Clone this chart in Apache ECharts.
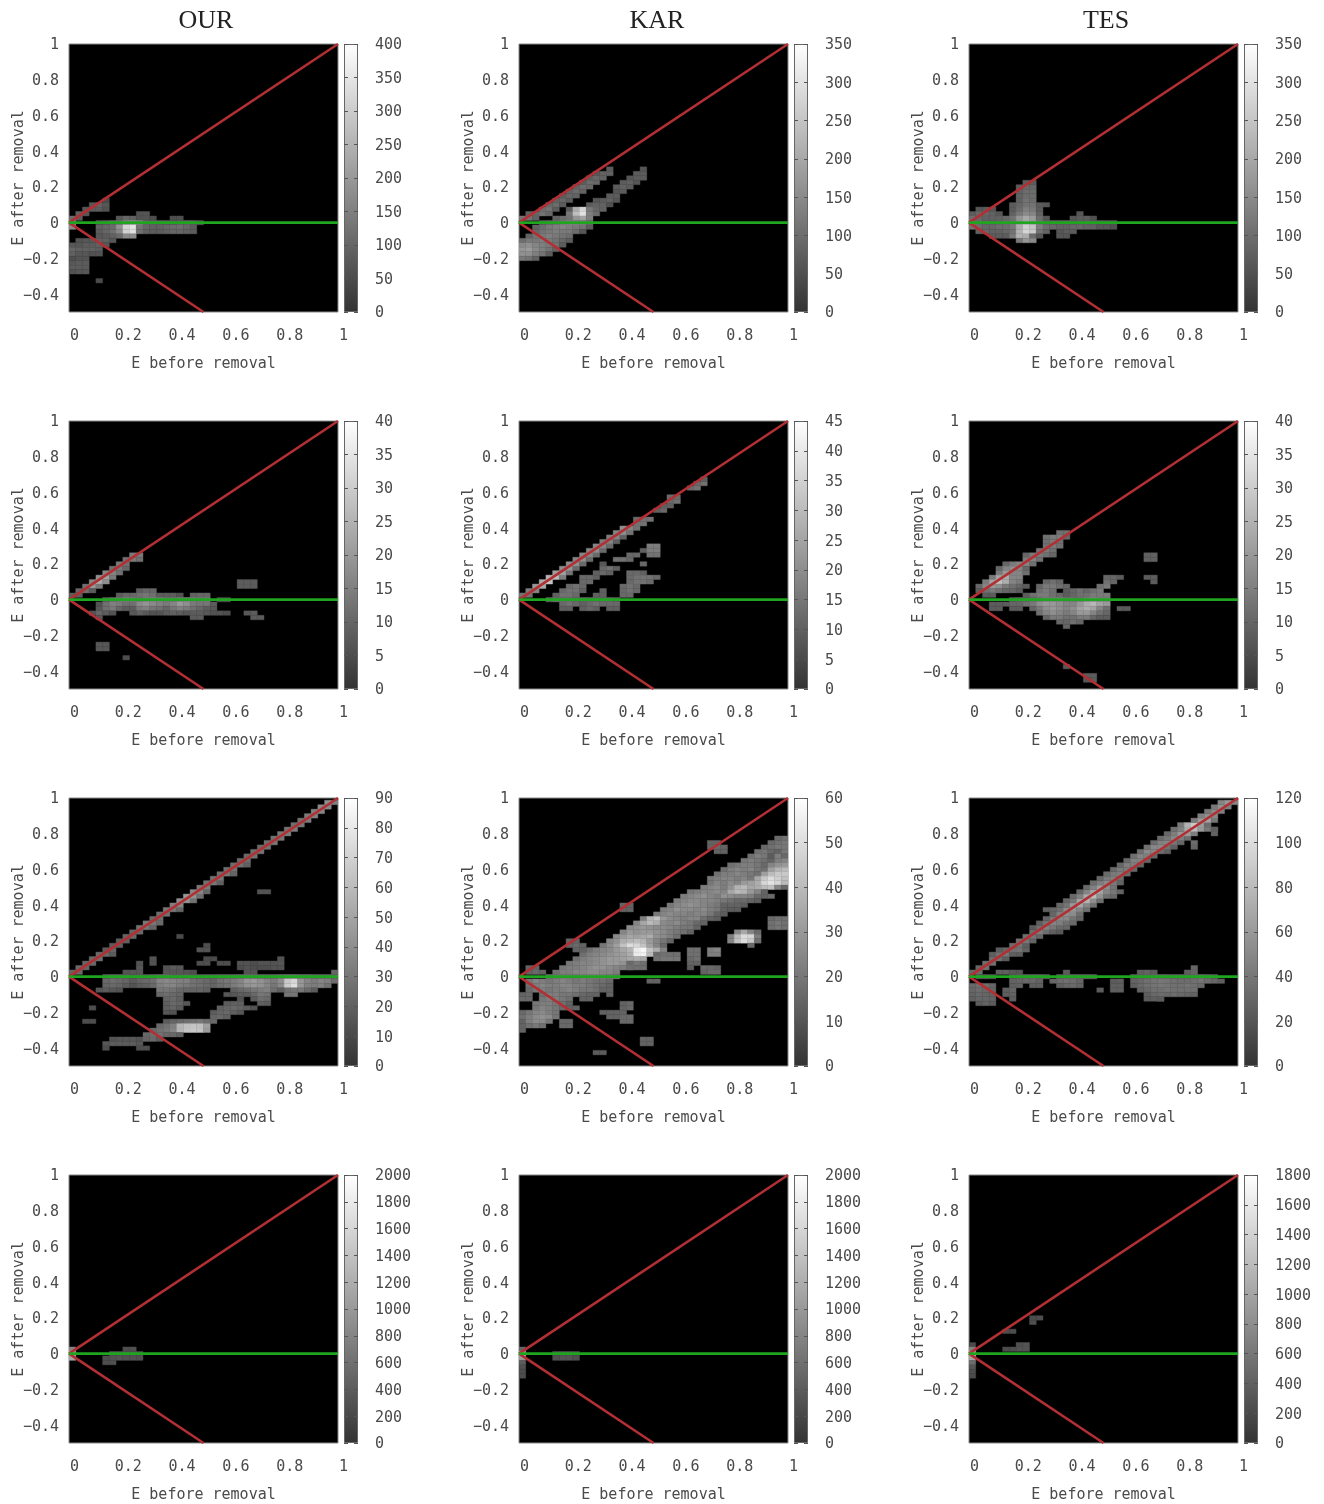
<!DOCTYPE html>
<html><head><meta charset="utf-8">
<style>html,body{margin:0;padding:0;background:#fff}#c{width:1324px;height:1504px;filter:blur(0.5px)}</style>
<script src="https://cdn.jsdelivr.net/npm/echarts@6/dist/echarts.min.js"></script>
</head><body><div id="c"></div>
<script>
// Histogram rows: [row bin (0.025 units from E after = 0), first column bin, counts...]
const ourRow1 = [
[5,5,45],[4,3,70,95,70],[3,2,70,80,80,60],[2,1,90,70],[2,10,60,65],
[1,0,110,80],[1,7,70,100,90,60,65,50],[1,15,50,55],
[0,0,180],[0,4,60,80,110,130,170,190,170,110,100,90,80,80,90,100,90,60],
[-1,0,170],[-1,4,90,100,110,190,320,345,130,100,90,90,100,110,115,100,80],
[-2,4,80,100,120,170,310,340,120,90,80,80,90,100,100,90,80],
[-3,4,70,80,90,110,170,170],[-4,1,60,70,70,90,90,70],
[-5,0,70,70,80,80,90,70],[-6,0,100,90,90,90,80],[-7,0,90,70,70,60,60],
[-8,0,55,65,65],[-9,0,70,80,80],[-10,0,80,80,80],[-11,0,60,70,70],[-13,4,45]];
const karRow1 = [
[12,13,70],[11,11,60,80,80],[10,10,70,90,80],[9,9,70,100,90],[8,8,80,100,90],[7,7,80,100,80],
[6,6,70,90,80],[5,5,80,90,70],[4,4,90,100,70],[3,3,100,110,70],[2,1,80,90,110,90],[1,0,110,110,80],
[12,18,60],[11,17,70,70],[10,16,60,70,70],[9,15,70,80,60],[8,14,70,80,70],[7,14,60,70],[6,13,70,70],
[5,11,60,70,80,60],[4,10,70,80,80,50],[3,7,70,210,280,120,90,80],[2,7,120,240,300,130,100],
[1,5,80,100,110,170,190,130],[0,3,70,90,110,130,150,150,140,110],
[-1,2,80,100,120,130,140,130,120,110,70],[-2,2,90,110,120,130,120,120,100,60],[-3,1,80,110,120,130,120,110,100],
[-4,0,100,120,120,130,120,110,90,70],[-5,0,150,160,140,130,120,110,70],[-6,0,170,180,150,130,110,80],
[-7,0,160,160,130,110,70],[-8,0,120,110,80]];
const tesRow1 = [
[9,8,70,70],[8,7,70,90,90],[7,7,80,100,100],[6,7,80,100,100],[5,7,80,110,100],
[4,6,70,90,110,110,70,60],[3,1,60,70,60,0,0,70,100,130,120,70],
[2,0,70,90,90,80,60,0,80,120,150,140,80],[2,16,60],
[1,0,100,90,80,80,80,90,110,170,200,180,100,60],[1,15,60,70,70,50],
[0,0,120,110,90,90,100,110,130,190,230,200,130,90,80,80,80,80,90,90,80,70,60,60],
[-1,0,110,100,90,90,100,100,120,210,270,250,130,100,90,80,80,90,90,80,80,60,60,50],
[-2,1,80,90,80,80,90,110,220,280,260,110,80,0,60,70,70],
[-3,3,70,70,70,120,220,210,100,60,0,0,60,60],[-4,7,120,170,150]];
const ourRow2 = [
[10,9,14,14],[9,8,12,14,12],[8,7,14,12],[7,6,12,14,10],[6,5,16,16,12],[5,4,18,22,14],[4,3,16,24,18],
[3,2,12,20,14],[2,1,10,12,8],[1,0,8,8],
[3,25,8,8,8],[4,25,8,8,8],[2,10,8,10,10],
[1,7,8,10,10,12,13,12,8,8,8,6],[1,18,9,10,10],
[0,5,8,12,14,16,15,14,16,16,15,14,14,15,16,15,14,15],[0,22,5,5],
[-1,4,6,12,15,14,12,12,17,19,17,15,14,16,20,18,14,13,13,8],
[-2,4,7,12,14,10,8,8,14,15,13,12,10,13,15,14,12,10,8,7],[-2,24,0],
[-3,3,6,10,8,6,0,0,7,9,7,6,6,8,9,8,7,8,8,7],[-3,21,6,6,5],[-3,26,7,8],
[-4,4,7],[-4,18,8,8],[-4,27,8,8],[-10,4,7,7],[-11,4,7,7],[-13,8,5]];
const karRow2 = [
[1,0,14,14],[2,1,16,18],[3,2,22,26],[4,3,26,32],[5,4,28,30,16],[6,5,24,24,14],[7,6,20,22,12],[8,7,20,20,12],
[9,8,18,20,12],[10,9,18,18,12],[11,10,18,20,12],[12,11,18,18,12],[13,12,16,18,10],[14,13,16,18,10],[15,14,18,20,14],
[16,15,20,18,14],[17,17,14,14],[18,17,12,14,14],[20,20,10,12],[21,21,10,10],[22,22,12,14],[23,22,12,12],
[25,25,12,14],[26,26,12,14],[27,27,10],
[12,19,16,16],[11,18,10,16,16],[10,16,12,12],[10,19,14,14],[9,14,14,14,12],[8,12,8],[8,18,12],[7,12,12,14,10],
[6,11,10,12,10],[6,16,12,12,10],[5,9,12,12,10],[5,16,12,14,14,14,12],[4,9,12,12],[4,16,12,14,14,12],
[3,7,12,14,12],[3,15,12,14,12],[2,6,12,14,14,10],[2,12,10],[2,15,12,14,12],[1,5,10,14,14,12],[1,11,10,10],[1,15,12,12],
[0,4,10,14,14,14,12,12,12,12,12,12,10],[-1,6,12,14,12,10,12,14,12,12,12],[-2,6,10,10],[-2,9,10,12,10],[-2,13,10,10]];
const tesRow2 = [
[15,13,12,12],[14,11,12,14,14,10],[13,11,12,14,12],[12,11,12,14,12],[11,10,12,14,12],[10,8,10,14,14,12,10],
[9,8,14,16,12],[8,5,10,14,16,16,12],[7,4,10,16,18,16,10],[6,4,14,20,16,16,12],[5,3,14,22,24,16,16],
[4,2,14,22,28,24,16,14],[3,1,10,16,20,18,14,12,10,8],[2,1,8,12,14,12,10,10,8],[1,2,8,8],
[5,20,10,10,8],[4,11,10,12,10],[4,20,12,10],[3,10,10,14,14,12,10],[3,19,12,14],
[2,10,12,14,12],[2,14,8,10,12,10,12,14],[1,8,8,12,14,14,12,10,8,10,12,12,14,14,14],
[0,6,8,10,10,12,14,16,16,16,14,14,14,16,18,16,16],
[-1,3,8,8,8,10,10,12,14,18,20,20,18,16,16,20,24,26,22,20],
[-2,3,8,8,0,8,8,0,10,14,18,20,18,16,18,22,24,22,16,12],[-2,22,8,8],
[-3,10,12,16,18,16,14,16,20,20,16,12,10],[-4,11,10,14,14,12,12,14,14,10,8,8],[-5,13,10,10,12,10],[-6,14,10],
[10,26,9,9],[9,26,9,9],[5,26,8,8],[4,27,8],[-15,14,7],[-17,17,8,8],[-18,17,7,8]];
const ourRow3 = [
[1,0,22,24],[2,1,24,22],[3,2,22,24],[4,3,24,26],[5,4,24,24,18],[6,5,18,22],[7,6,18,20],[8,7,18,20],
[9,8,22,24],[10,9,22,24],[11,10,28,30,22],[12,11,30,30,24],[13,12,24,26],[14,13,26,28],[15,14,30,30,22],
[16,15,34,36],[17,16,40,42,28],[18,17,44,42,26],[19,18,38,36,22],[20,19,30,32],[21,20,28,30,20],[22,21,28,30],
[23,22,26,30,22],[24,23,26,28],[25,24,26,28,20],[26,25,24,26],[27,26,24,28],[28,27,26,28],[29,28,24,28],
[30,29,26,30],[31,30,28,30],[32,31,30,32],[33,32,28,32],[34,33,26,30],[35,34,28,32],[36,35,32,34],[37,36,34,36],
[38,37,38,38],[39,38,40,34],
[19,28,14,14],[9,16,10],[7,20,12],[6,19,14,14],[4,12,14],[3,12,14],[4,20,10,10],[3,19,12,12],[3,22,12,12],
[3,10,14],[2,10,16],[1,8,14,16,16],[2,14,14,18,16],[1,14,16,16,16,14,12],
[3,25,14,14,12],[2,25,12,14,12],[3,28,14,14,14,16],[2,28,12,12,14,14],[4,31,14],[1,26,14,14],[1,39,22],
[0,5,18,22,22,20,18,20,18,22,26,26,22,22,24,20,18,20,20,22,22,24,26,28,26,24,22,24,28,30,30,28,26,24,24,24,22],
[-1,5,24,26,24,22,18,22,24,26,36,38,36,34,34,28,26,24,22,28,30,32,36,44,46,42,36,32,40,66,72,44,36,32,36,34,26],
[-2,5,22,24,22,18,14,18,20,24,34,36,36,32,30,28,26,24,22,26,28,32,36,42,44,42,36,30,38,68,76,44,34,32,34,28],
[-3,4,16,18,16,14],[-3,13,30,30,28,24,22,22,22,20],[-3,24,20,24,26,30,32,34,26,20,28,30,30,24,18],
[-4,13,24,26,24,22],[-4,23,16,16,18,18,24,30,28],[-4,32,30,30],
[-5,14,22,24,20],[-5,25,14],[-5,27,18,26,24],[-6,14,20,24,22,16],[-6,23,18,20,20],[-6,28,20,18],
[-7,3,12],[-7,14,20,22,18],[-7,22,20,22,24,22,18,14],[-8,14,16,14],[-8,21,18,22,24,20,16],
[-9,21,22,24,20],[-10,2,12,12],[-10,14,18,22,24,26,28,30,26,24],[-11,13,24,28,34,58,62,64,62,48],
[-12,12,24,28,30,36,58,64,66,64,46],[-13,11,24,26,28,24,24,20],[-14,6,14,16,16,16,14],[-14,11,22,24,18],
[-15,5,16,18,18,18,18,16],[-16,5,12],[-16,10,12,12]];
const karRow3 = [
[31,38,16,18],[30,37,16,18,20],[29,36,16,18,20,20],[28,35,18,20,16,14,20],[27,34,18,22,20,12,22,16],
[26,33,20,22,20,18,14,22,24],[25,31,18,20,22,22,20,16,24,28,30],[24,30,18,22,24,22,24,20,18,32,38,40],
[23,29,18,22,22,24,22,20,18,32,40,44,44],[22,28,20,22,24,24,22,24,20,34,44,50,46,42],
[21,28,20,24,22,26,24,30,32,36,48,52,48,40],[20,27,22,24,26,22,28,38,40,34,36,40,42,24,16],
[19,25,20,22,24,24,26,24,34,40,38,30,24,14],[18,24,22,24,26,28,24,22,28,26,24,24,22,16,14,16],
[17,23,22,24,26,26,24,24,22,20,18,16,16,14,12],[16,22,20,24,26,28,26,24,22,20,14,14,14,12],
[15,21,22,24,28,26,26,24,26,22,20,14,12,12],[14,20,20,24,26,24,24,22,24,24,20,14,12],
[13,18,22,38,42,30,26,24,22,24,24,18,14,12],[12,17,24,34,40,36,26,24,26,22,20,16,14],
[11,16,26,28,30,28,26,26,24,22,20,20,14],[10,15,24,30,28,30,30,28,26,22,20,18,14],
[9,14,26,30,34,32,34,36,28,26,22,18],[8,13,24,28,36,38,40,38,30,24,20,14],
[7,12,20,26,32,42,50,48,42,32,24,16],[6,10,18,22,24,26,30,34,38,54,58,42,36,24],
[5,9,18,22,24,26,28,30,32,36,54,56,40,30,20],[4,8,18,22,24,26,28,30,30,32,34,36,34],
[3,7,20,22,24,24,26,28,30,30,28,26],[2,6,20,22,22,24,26,28,28,26,24,22,20],
[1,5,18,22,22,24,24,26,26,24,24,22],[0,4,18,20,22,22,22,24,24,24,24,22,20],
[13,37,16,18,18],[12,37,18,20,18],[11,37,18,20,18],
[10,32,24,34,24,16],[9,31,22,40,50,48,22],[8,31,24,42,50,44,18],[7,34,16],
[6,28,22,24],[5,28,22,22],[6,25,18,18],[5,25,18,18],[4,25,16,18],[3,25,14,14],[2,25,12],
[5,20,16,18,18,18],[4,20,18,20,20,20],[3,16,16,20,18],[2,16,18,18,18],[2,27,16,16,14],[1,27,14,16,16],
[2,1,14,14],[1,1,14,16,14],[8,7,14,14],[7,7,14,16,14],[6,8,14,14],
[16,15,14,14],[15,15,14,14],[30,28,14,14],[29,28,14,16,14],[28,29,14,14],
[-1,1,20,24,22,20,22,24,22,20,22,20,18,18,16],[-1,19,14,14],[-2,1,18,22,24,22,22,24,24,22,22,20,18,16,14],
[-3,1,16,20,22,20,22,22,24,22,20,20,18,14,14],[-4,0,14,16,0,18,22,22,20,20,18,16,14,14,0,14],
[-5,0,16,16,0,20,22,22,20,18,0,14,14],[-6,2,20,22,22,20,18,14],[-6,15,14,16],[-7,2,20,24,22,20,16,14,14],[-7,15,14,16],
[-8,0,16,20,24,26,22,20],[-8,12,14,14,14,14],[-9,0,18,22,26,28,26,20],[-9,13,14,14,16,16],
[-10,0,14,22,26,26,20],[-10,6,16,16],[-10,15,16,16],[-11,0,14,18,20,18],[-11,6,16,16],[-12,0,14],
[-14,18,14,14],[-15,18,14,14],[-17,11,12,12]];
const tesRow3 = [
[1,0,30,34],[2,1,30,36],[3,2,34,36],[4,3,34,36,24],[5,3,26,36,40,26,24],[6,4,24,30,36,38,28],[7,6,34,38,26],
[8,7,36,40,28],[9,8,36,40,30],[10,9,34,44,34,26,22],[11,9,24,36,48,40,32,30],[12,10,26,38,48,44,36,32],
[13,11,28,40,50,50,38,30],[14,12,30,46,54,52,34],[15,11,26,30,36,52,58,48,36],[16,13,30,38,60,68,50,36],
[17,14,30,40,66,76,54,34],[18,15,32,46,70,80,56,36,32],[19,16,30,48,66,66,48,40,28],[20,17,32,46,62,54,38],
[21,18,34,44,52,42,28],[22,19,30,42,46,34],[23,20,32,42,44,32],[24,21,32,42,42,30],[25,22,30,44,44,28],
[26,23,32,46,46,30],[27,24,36,48,44,30],[28,25,36,52,48,34,26],[29,26,36,50,52,38,26],[30,27,34,46,48,40,30],
[31,28,32,40,50,44,34],[32,29,30,44,60,62,44],[33,30,36,46,70,80,60,40,30],[34,31,40,74,88,62,34],
[35,33,42,62,66,40],[36,34,44,54,50],[37,35,40,52,44],[38,36,42,56,44],[39,37,48,60,48],
[29,33,30],[30,33,34],[32,36,28],[33,36,26],
[1,4,26,26,22,20],[1,14,24],[1,25,26,28,24],[1,32,26,30],[2,33,30],
[0,1,24,22,20,0,0,24,28,30,32,30,24,0,26,30,32,30,28,26,0,0,0,0,0,26,30,32,34,34,32,30,30,30,34,36,30,24],
[-1,6,28,30,32,32,28,0,30,34,36,34,30,0,0,0,0,24,26,0,28,32,36,38,40,38,36,34,34,36,38,34,30,26],
[-2,0,32,36,34,30,0,0,26,28,0,26,26,0,0,26,30,32,28,0,0,0,0,26,26,0,26,32,36,38,40,38,36,36,38,36,32],
[-3,0,30,34,32,30,0,26,30,0,0,0,0,0,0,0,0,0,0,0,0,24,0,26,26,0,0,28,32,36,36,38,36,36,36,36],
[-4,0,28,32,30,28,0,26,28],[-4,26,26,32,34,32,34,32,30,28],[-5,0,26,30,30,28,0,0,26],[-5,26,24,26,24],[-5,28,24],[-6,1,24,28,24]];
const ourRow4 = [[1,0,800],[0,0,1400],[-1,0,1100],[1,8,260,280],[0,6,300,320,340,340,300],[-1,5,260,300,320,300,300,280],[-2,5,260,280]];
const karRow4 = [[1,0,500],[0,0,1400],[-1,0,1000],[-2,0,400],[-3,0,280],[-4,0,260],[-5,0,260],[0,5,300,340,340,280],[-1,5,280,320,320,260]];
const tesRow4 = [[8,9,220,240],[7,9,240],[5,5,230,230],[2,7,260,280],[1,5,220,240,280,280],[2,0,200],[1,0,700],[0,0,1300],[-1,0,1000],[-2,0,500],[-3,0,300],[-4,0,240],[-5,0,220]];

const columnTitles = ['OUR', 'KAR', 'TES'];
const panelCounts = [ourRow1, karRow1, tesRow1, ourRow2, karRow2, tesRow2, ourRow3, karRow3, tesRow3, ourRow4, karRow4, tesRow4];
const colorMax = [400, 350, 350, 40, 45, 40, 90, 60, 120, 2000, 2000, 1800];
const colorStep = [50, 50, 50, 5, 5, 5, 10, 10, 20, 200, 200, 200];
const xTicks = [0, 0.2, 0.4, 0.6, 0.8, 1];
const yTicks = [-0.4, -0.2, 0, 0.2, 0.4, 0.6, 0.8, 1];
const upperBound = [[0, 0], [1, 1]];
const lowerBound = [[0, 0], [0.5, -0.5]];
const noChange = [[0, 0], [1, 0]];
const binSize = 0.025;

const lefts = [69, 519, 969], tops = [44, 421, 798, 1175];
const W = 269, H = 268;
const textColor = '#4a4a4a', mono = '"DejaVu Sans Mono", monospace';
const label = {color: textColor, fontFamily: mono, fontSize: 15};
const richDown = {a: {...label, padding: [3, 0, 0, 0]}};

const grid = [], xAxis = [], yAxis = [], series = [], visualMap = [], title = [];
columnTitles.forEach((t, c) => title.push({
  text: t, left: [201, 652, 1101][c], top: 3, textAlign: 'center',
  textStyle: {fontFamily: '"Liberation Serif", serif', fontSize: 26, fontWeight: 'normal', color: '#222'}
}));

panelCounts.forEach((rows, p) => {
  const left = lefts[p % 3], top = tops[Math.floor(p / 3)], m = colorMax[p], step = colorStep[p];
  const data = [];
  rows.forEach(r => {
    for (let k = 2; k < r.length; k++) {
      if (r[k] > 0) data.push([(r[1] + k - 2 + 0.5) * binSize, r[0] * binSize, r[k]]);
    }
  });
  const gi = grid.length, xi = xAxis.length, yi = yAxis.length;
  grid.push({left, top, width: W, height: H, show: true, backgroundColor: '#000', borderColor: '#8a8a8a', borderWidth: 1});
  xAxis.push({
    type: 'value', gridIndex: gi, min: 0, max: 1, interval: 0.2, splitLine: {show: false},
    axisLine: {show: false}, axisTick: {show: false},
    axisLabel: {...label, margin: 17, padding: [0, 0, 0, 11], customValues: xTicks},
    name: 'E before removal', nameLocation: 'middle', nameGap: 45, nameTextStyle: label
  });
  yAxis.push({
    type: 'value', gridIndex: gi, min: -0.5, max: 1, splitLine: {show: false},
    axisLine: {show: false}, axisTick: {show: false},
    axisLabel: {...label, margin: 10, rich: richDown, customValues: yTicks, formatter: v => '{a|' + String(v).replace('-', '\u2212') + '}'},
    name: 'E after removal', nameLocation: 'middle', nameGap: 42, nameRotate: 90, nameMoveOverlap: false, nameTextStyle: label
  });
  visualMap.push({show: false, seriesIndex: series.length, dimension: 2, min: 0, max: m, inRange: {color: ['#333333', '#ffffff']}});
  series.push({
    type: 'custom', xAxisIndex: xi, yAxisIndex: yi, data, clip: true, encode: {x: 0, y: 1}, silent: true, z: 2,
    renderItem: (params, api) => {
      const c = api.coord([api.value(0), api.value(1)]);
      const s = api.size([binSize, binSize]);
      const col = api.visual('color');
      return {type: 'rect', shape: {x: c[0] - s[0] / 2, y: c[1] - s[1] / 2, width: s[0], height: s[1]},
              style: {fill: col, stroke: col, lineWidth: 0.4}};
    }
  });
  [[upperBound, '#b22f33'], [lowerBound, '#b22f33'], [noChange, '#1fa51f']].forEach(([d, color]) => series.push({
    type: 'line', xAxisIndex: xi, yAxisIndex: yi, data: d, showSymbol: false, silent: true, z: 5,
    lineStyle: {color, width: 2.6}
  }));
  const gb = grid.length, xb = xAxis.length, yb = yAxis.length;
  grid.push({left: left + 275, top, width: 14, height: H, show: false});
  xAxis.push({type: 'category', gridIndex: gb, data: ['count'], show: false});
  const tick = {show: true, inside: true, length: 4, lineStyle: {color: '#555'}};
  yAxis.push({
    type: 'value', gridIndex: gb, min: 0, max: m, interval: step, position: 'right', z: 6,
    splitLine: {show: false}, axisLine: {show: false}, axisTick: tick,
    axisLabel: {...label, margin: 17, align: 'left', rich: richDown, formatter: v => '{a|' + v + '}'}
  });
  yAxis.push({
    type: 'value', gridIndex: gb, min: 0, max: m, interval: step, position: 'left', z: 6,
    splitLine: {show: false}, axisLine: {show: false}, axisTick: tick, axisLabel: {show: false}
  });
  series.push({
    type: 'bar', xAxisIndex: xb, yAxisIndex: yb, data: [m], barWidth: '100%', silent: true, z: 2,
    itemStyle: {
      borderColor: '#666', borderWidth: 1,
      color: new echarts.graphic.LinearGradient(0, 0, 0, 1, [{offset: 0, color: '#ffffff'}, {offset: 1, color: '#333333'}])
    }
  });
});

const chart = echarts.init(document.getElementById('c'), null, {renderer: 'canvas'});
chart.setOption({animation: false, backgroundColor: '#fff', title, grid, xAxis, yAxis, series, visualMap});
</script></body></html>
